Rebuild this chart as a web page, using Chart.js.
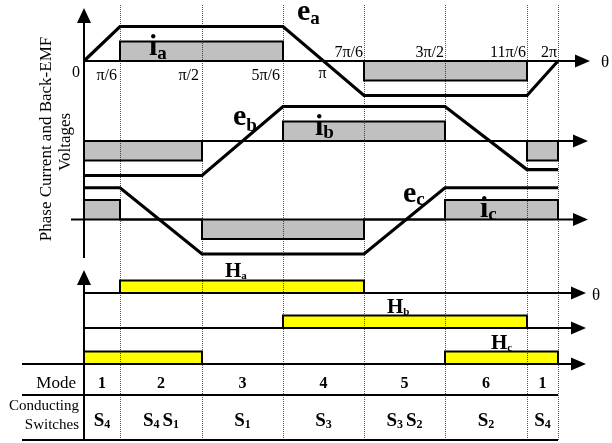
<!DOCTYPE html>
<html lang="en">
<head>
<meta charset="UTF-8">
<title>BLDC 120° conduction waveforms</title>
<script src="https://cdn.jsdelivr.net/npm/chart.js"></script>
<style>
  html, body { margin: 0; padding: 0; background: #fff; }
  #wrap { position: relative; width: 612px; height: 443px; }
</style>
</head>
<body>
<div id="wrap"><canvas id="myChart"></canvas></div>
<script>
// sector edges in electrical degrees (mode 1, 2 ... 6, then 1 again)
const edges = [0, 30, 90, 150, 210, 270, 330, 360];
const modes = ['1', '2', '3', '4', '5', '6', '1'];
const switches = ['S4', 'S4 S1', 'S1', 'S3', 'S3 S2', 'S2', 'S4'];

// phase currents per sector (+1 / 0 / -1)
const iaLevels = [0, 1, 1, 0, -1, -1, 0];
const ibLevels = [-1, -1, 0, 1, 1, 0, -1];
const icLevels = [1, 0, -1, -1, 0, 1, 1];

// hall sensor states per sector
const haLevels = [0, 1, 1, 1, 0, 0, 0];
const hbLevels = [0, 0, 0, 1, 1, 1, 0];
const hcLevels = [1, 1, 0, 0, 0, 1, 1];

// trapezoidal back-EMF corners [deg, value]
const eaPts = [[0, 0], [30, 1], [150, 1], [210, -1], [330, -1], [360, 0]];
const ebPts = [[0, -1], [90, -1], [150, 1], [270, 1], [330, -0.83], [360, -0.83]];
const ecPts = [[0, 0.92], [30, 0.92], [90, -1], [210, -1], [270, 0.92], [360, 0.92]];

// angle tick labels
const tickAngles = [0, 30, 90, 150, 180, 210, 270, 330, 360];
const tickLabels = ['0', 'π/6', 'π/2', '5π/6', 'π', '7π/6', '3π/2', '11π/6', '2π'];

// ---- layout (the drawing is not evenly spaced in angle) ----
const W = 612, H = 443;
const knotDeg = [0, 30, 90, 150, 210, 270, 330, 360];
const knotPx = [84, 120, 202, 283, 364, 445, 527, 558];
const outSlope = 81 / 60;
const rowBase = { a: 61, b: 141, c: 219.5, ha: 293, hb: 328, hc: 364 };
const emfUnit = 34.5, curUnit = 19.5, hallUnit = 12.5;
const serif = '"Liberation Serif", "Times New Roman", serif';

class WarpScale extends Chart.LinearScale {
  getPixelForValue(v) {
    const n = knotDeg.length;
    let p;
    if (v <= knotDeg[0]) p = knotPx[0] + (v - knotDeg[0]) * outSlope;
    else if (v >= knotDeg[n - 1]) p = knotPx[n - 1] + (v - knotDeg[n - 1]) * outSlope;
    else {
      let i = 0;
      while (v > knotDeg[i + 1]) i++;
      p = knotPx[i] + (v - knotDeg[i]) / (knotDeg[i + 1] - knotDeg[i]) * (knotPx[i + 1] - knotPx[i]);
    }
    return this.left + p / W * this.width;
  }
}
WarpScale.id = 'warp';
WarpScale.defaults = Chart.LinearScale.defaults;
Chart.register(WarpScale);

function steps(levels) {
  const pts = [{ x: edges[0], y: 0 }];
  levels.forEach((v, i) => pts.push({ x: edges[i], y: v }, { x: edges[i + 1], y: v }));
  pts.push({ x: edges[edges.length - 1], y: 0 });
  return pts;
}
const corners = arr => arr.map(p => ({ x: p[0], y: p[1] }));

function yAxis(base, unit) {
  return { type: 'linear', display: false, bounds: 'data', min: (base - H) / unit, max: base / unit };
}

const emf = (data, axis) => ({
  data: corners(data), yAxisID: axis, borderColor: '#000', borderWidth: 3.2,
  borderJoinStyle: 'miter', fill: false, pointRadius: 0, tension: 0
});
const block = (levels, axis, color) => ({
  data: steps(levels), yAxisID: axis, borderColor: '#000', borderWidth: 2,
  borderJoinStyle: 'miter', backgroundColor: color, fill: 'origin', pointRadius: 0, tension: 0
});

function subText(ctx, main, sub, x, y, mainFont, subFont, drop, center) {
  ctx.font = mainFont; const w1 = ctx.measureText(main).width;
  ctx.font = subFont; const w2 = ctx.measureText(sub).width;
  const x0 = center ? x - (w1 + w2) / 2 : x;
  ctx.textAlign = 'left';
  ctx.font = mainFont; ctx.fillText(main, x0, y);
  ctx.font = subFont; ctx.fillText(sub, x0 + w1, y + drop);
}

function arrowRight(ctx, x, y) {
  ctx.beginPath(); ctx.moveTo(x, y); ctx.lineTo(x - 15, y - 6.5); ctx.lineTo(x - 15, y + 6.5); ctx.closePath(); ctx.fill();
}
function arrowUp(ctx, x, y) {
  ctx.beginPath(); ctx.moveTo(x, y); ctx.lineTo(x - 7, y + 15); ctx.lineTo(x + 7, y + 15); ctx.closePath(); ctx.fill();
}

const decor = {
  id: 'decor',
  afterDatasetsDraw(chart) {
    const ctx = chart.ctx, xs = chart.scales.x, s = chart.scales;
    const x0 = xs.getPixelForValue(0), xEnd = xs.getPixelForValue(360);
    ctx.save();
    // dotted sector lines
    ctx.globalCompositeOperation = 'multiply';
    ctx.strokeStyle = '#555'; ctx.lineWidth = 1; ctx.setLineDash([1, 1]);
    edges.slice(1).forEach(d => {
      const px = Math.round(xs.getPixelForValue(d)) + 0.5;
      ctx.beginPath(); ctx.moveTo(px, 5); ctx.lineTo(px, 440); ctx.stroke();
    });
    ctx.restore();

    ctx.save();
    ctx.strokeStyle = '#000'; ctx.fillStyle = '#000'; ctx.lineWidth = 2;
    const hline = (y, a, b) => { ctx.beginPath(); ctx.moveTo(a, y); ctx.lineTo(b, y); ctx.stroke(); };
    const tip = xEnd + 32;
    const ya = s.ea.getPixelForValue(0), yb = s.eb.getPixelForValue(0), yc = s.ec.getPixelForValue(0);
    const yha = s.ha.getPixelForValue(0), yhb = s.hb.getPixelForValue(0), yhc = s.hc.getPixelForValue(0);
    hline(ya, x0, tip - 10); arrowRight(ctx, tip, ya);
    hline(yb, x0 - 1, tip - 10); arrowRight(ctx, tip - 2, yb);
    hline(yc, x0 - 13, tip - 10); arrowRight(ctx, tip - 2, yc);
    hline(yha, x0, tip - 10); arrowRight(ctx, tip - 4, yha);
    hline(yhb, x0, tip - 10); arrowRight(ctx, tip - 4, yhb);
    hline(yhc, x0 - 62, tip - 10); arrowRight(ctx, tip - 4, yhc);
    hline(395, x0 - 62, xEnd); hline(440, x0 - 62, xEnd);
    // vertical axes
    ctx.beginPath(); ctx.moveTo(x0, 258); ctx.lineTo(x0, 20); ctx.stroke(); arrowUp(ctx, x0, 8);
    ctx.beginPath(); ctx.moveTo(x0, 441); ctx.lineTo(x0, 282); ctx.stroke(); arrowUp(ctx, x0, 270);
    ctx.restore();
  },
  afterDraw(chart) {
    const ctx = chart.ctx, xs = chart.scales.x;
    ctx.save();
    ctx.fillStyle = '#000'; ctx.textBaseline = 'alphabetic';
    // angle labels
    ctx.font = '16px ' + serif;
    tickAngles.forEach((d, i) => {
      const px = xs.getPixelForValue(d);
      if (i === 0) { ctx.textAlign = 'right'; ctx.fillText(tickLabels[i], px - 4, 77); }
      else if (i < 4) { ctx.textAlign = 'right'; ctx.fillText(tickLabels[i], px - 3, 80); }
      else if (i === 4) { ctx.textAlign = 'center'; ctx.fillText(tickLabels[i], px - 1, 78); }
      else { ctx.textAlign = 'right'; ctx.fillText(tickLabels[i], px - 1, 57); }
    });
    ctx.font = '17px ' + serif; ctx.textAlign = 'left';
    ctx.fillText('θ', 601, 67);
    ctx.fillText('θ', 592, 300);

    // trace labels
    const big = 'bold 30px ' + serif, small = 'bold 19px ' + serif;
    subText(ctx, 'e', 'a', 297, 20, big, small, 4);
    subText(ctx, 'i', 'a', 149, 55, big, small, 4);
    subText(ctx, 'e', 'b', 233, 125, big, small, 6);
    subText(ctx, 'i', 'b', 315, 135, big, small, 3);
    subText(ctx, 'e', 'c', 403, 202, big, small, 3);
    subText(ctx, 'i', 'c', 480, 217, big, small, 3);
    const hb = 'bold 21px ' + serif, hs = 'bold 11px ' + serif;
    subText(ctx, 'H', 'a', 225, 277, hb, hs, 2);
    subText(ctx, 'H', 'b', 387, 313, hb, hs, 2);
    subText(ctx, 'H', 'c', 491, 349, hb, hs, 2);

    // y title
    ctx.font = '17px ' + serif; ctx.textAlign = 'center'; ctx.textBaseline = 'middle';
    ctx.save(); ctx.translate(47, 139); ctx.rotate(-Math.PI / 2); ctx.fillText('Phase Current and Back-EMF', 0, 0); ctx.restore();
    ctx.save(); ctx.translate(66, 142); ctx.rotate(-Math.PI / 2); ctx.fillText('Voltages', 0, 0); ctx.restore();

    // table
    ctx.textBaseline = 'alphabetic';
    ctx.textAlign = 'right';
    ctx.font = '17px ' + serif; ctx.fillText('Mode', 76, 388);
    ctx.font = '15px ' + serif; ctx.fillText('Conducting', 79, 410); ctx.fillText('Switches', 79, 429);
    modes.forEach((m, i) => {
      const cx = xs.getPixelForValue((edges[i] + edges[i + 1]) / 2);
      ctx.font = 'bold 16px ' + serif; ctx.textAlign = 'center';
      ctx.fillText(m, cx, 388);
      // conducting switches with subscripts
      const toks = switches[i].split(' ');
      const mf = 'bold 19px ' + serif, sf = 'bold 12px ' + serif, gap = 3;
      const widths = toks.map(t => {
        ctx.font = mf; const a = ctx.measureText(t[0]).width;
        ctx.font = sf; return a + ctx.measureText(t.slice(1)).width;
      });
      let x = cx - (widths.reduce((p, q) => p + q, 0) + gap * (toks.length - 1)) / 2;
      toks.forEach((t, k) => {
        subText(ctx, t[0], t.slice(1), x, 426, mf, sf, 2);
        x += widths[k] + gap;
      });
    });
    ctx.restore();
  }
};

const ctx = document.getElementById('myChart').getContext('2d');
const chart = new Chart(ctx, {
  type: 'line',
  data: {
    datasets: [
      emf(eaPts, 'ea'), emf(ebPts, 'eb'), emf(ecPts, 'ec'),
      block(iaLevels, 'ia', '#c0c0c0'), block(ibLevels, 'ib', '#c0c0c0'), block(icLevels, 'ic', '#c0c0c0'),
      block(haLevels, 'ha', '#ffff00'), block(hbLevels, 'hb', '#ffff00'), block(hcLevels, 'hc', '#ffff00')
    ]
  },
  options: {
    responsive: true,
    maintainAspectRatio: false,
    animation: false,
    events: [],
    layout: { padding: 0 },
    plugins: { legend: { display: false }, tooltip: { enabled: false } },
    scales: {
      x: { type: 'warp', display: false, min: -60, max: 400 },
      ea: yAxis(rowBase.a, emfUnit), ia: yAxis(rowBase.a, curUnit),
      eb: yAxis(rowBase.b, emfUnit), ib: yAxis(rowBase.b, curUnit),
      ec: yAxis(rowBase.c, emfUnit), ic: yAxis(rowBase.c, curUnit),
      ha: yAxis(rowBase.ha, hallUnit), hb: yAxis(rowBase.hb, hallUnit), hc: yAxis(rowBase.hc, hallUnit)
    }
  },
  plugins: [decor]
});
</script>
</body>
</html>
